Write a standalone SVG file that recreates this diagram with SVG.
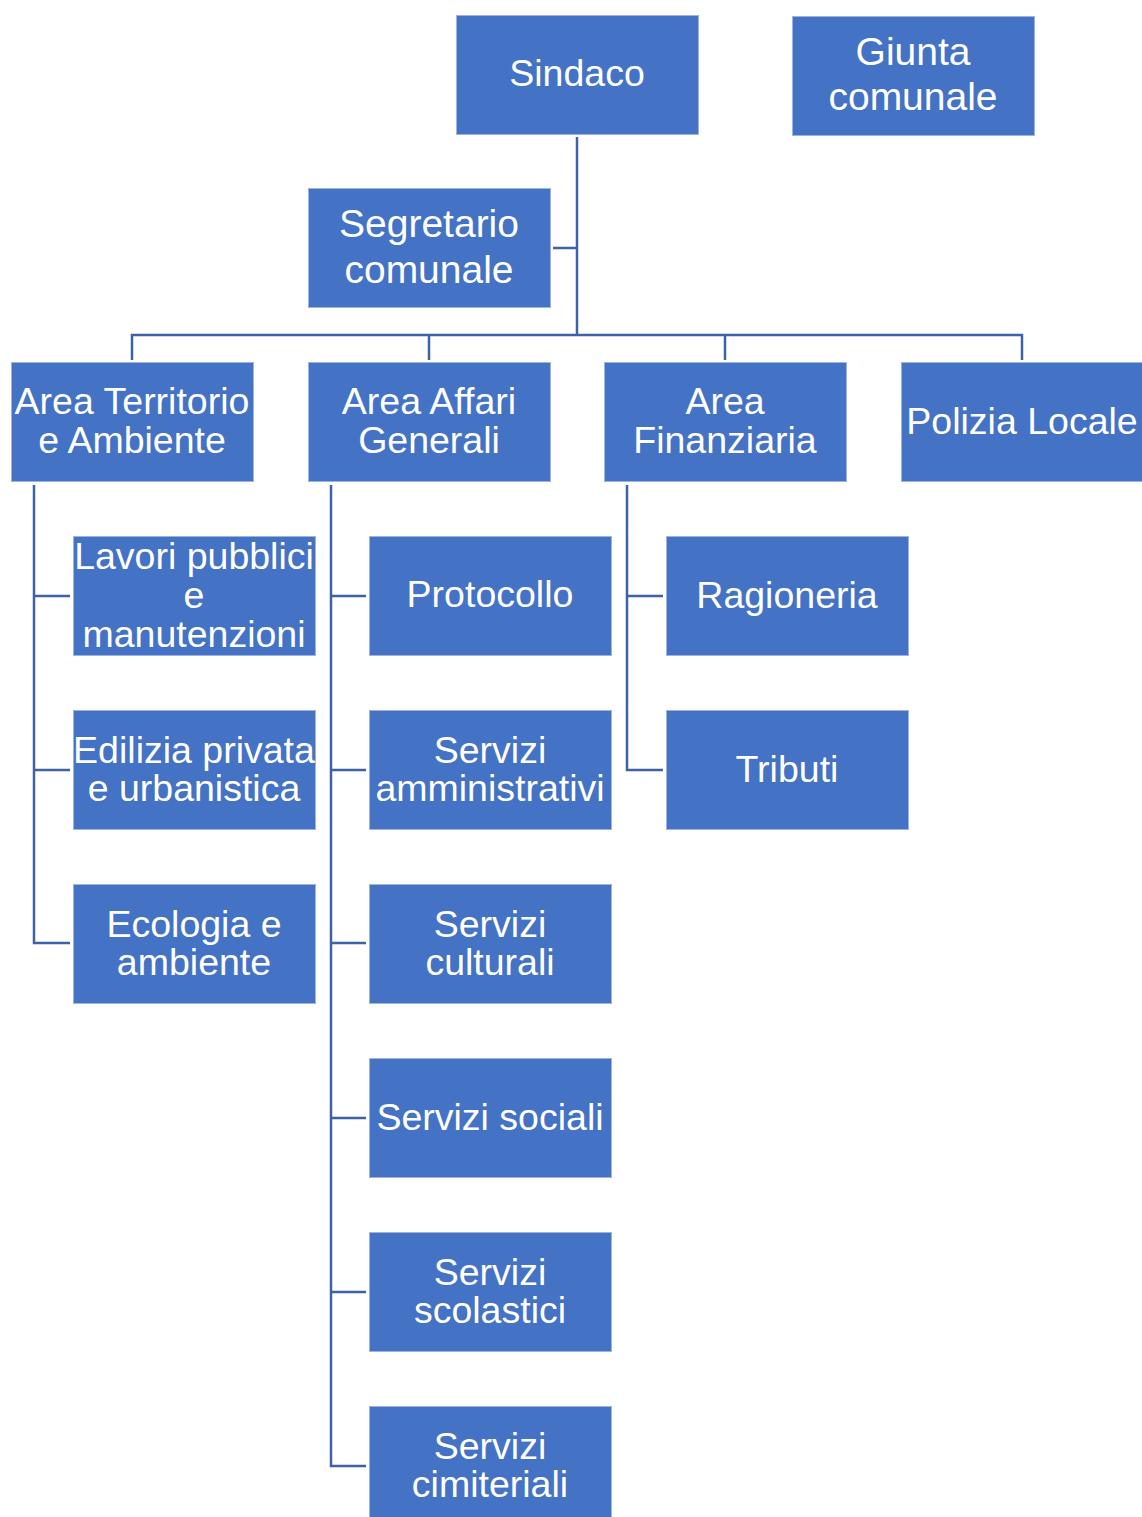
<svg xmlns="http://www.w3.org/2000/svg" width="1142" height="1517" viewBox="0 0 1142 1517">
<style>
.box{fill:#4472C4;stroke:#9DB4DE;stroke-width:1}
.t{font-family:"Liberation Sans",Arial,sans-serif;font-size:37.5px;fill:#FFFFFF;text-anchor:middle}
.L{font-size:39px}
.c{fill:none;stroke:#3D62A6;stroke-width:2.5}
</style>
<rect width="1142" height="1517" fill="#FFFFFF"/>
<g id="connectors">
<path class="c" d="M577,137 V335"/>
<path class="c" d="M553,248 H577"/>
<path class="c" d="M132,360 V335 H1022 V360"/>
<path class="c" d="M429,335 V360 M725,335 V360"/>
<path class="c" d="M34,485 V943 H70 M34,596 H70 M34,770 H70"/>
<path class="c" d="M331,485 V1466 H366 M331,596 H366 M331,770 H366 M331,943 H366 M331,1118 H366 M331,1292 H366"/>
<path class="c" d="M627,485 V770 H663 M627,596 H663"/>
</g>
<g id="sindaco"><rect class="box" x="456.5" y="15.5" width="242" height="119"/><text class="t" x="577" y="86">Sindaco</text></g>
<g id="giunta"><rect class="box" x="792.5" y="16.5" width="242" height="119"/><text class="t L" x="913" y="65">Giunta</text><text class="t L" x="913" y="110">comunale</text></g>
<g id="segretario"><rect class="box" x="308.5" y="188.5" width="242" height="119"/><text class="t L" x="429" y="237">Segretario</text><text class="t L" x="429" y="283">comunale</text></g>
<g id="area-territorio"><rect class="box" x="11.5" y="362.5" width="242" height="119"/><text class="t" x="132" y="414">Area Territorio</text><text class="t" x="132" y="453">e Ambiente</text></g>
<g id="area-affari"><rect class="box" x="308.5" y="362.5" width="242" height="119"/><text class="t" x="429" y="414">Area Affari</text><text class="t" x="429" y="453">Generali</text></g>
<g id="area-finanziaria"><rect class="box" x="604.5" y="362.5" width="242" height="119"/><text class="t" x="725" y="414">Area</text><text class="t" x="725" y="453">Finanziaria</text></g>
<g id="polizia"><rect class="box" x="901.5" y="362.5" width="242" height="119"/><text class="t" x="1022" y="434">Polizia Locale</text></g>
<g id="lavori"><rect class="box" x="73.5" y="536.5" width="242" height="119"/><text class="t" x="194" y="569">Lavori pubblici</text><text class="t" x="194" y="608">e</text><text class="t" x="194" y="647">manutenzioni</text></g>
<g id="edilizia"><rect class="box" x="73.5" y="710.5" width="242" height="119"/><text class="t" x="194" y="763">Edilizia privata</text><text class="t" x="194" y="801">e urbanistica</text></g>
<g id="ecologia"><rect class="box" x="73.5" y="884.5" width="242" height="119"/><text class="t" x="194" y="937">Ecologia e</text><text class="t" x="194" y="975">ambiente</text></g>
<g id="protocollo"><rect class="box" x="369.5" y="536.5" width="242" height="119"/><text class="t" x="490" y="607">Protocollo</text></g>
<g id="amministrativi"><rect class="box" x="369.5" y="710.5" width="242" height="119"/><text class="t" x="490" y="763">Servizi</text><text class="t" x="490" y="801">amministrativi</text></g>
<g id="culturali"><rect class="box" x="369.5" y="884.5" width="242" height="119"/><text class="t" x="490" y="937">Servizi</text><text class="t" x="490" y="975">culturali</text></g>
<g id="sociali"><rect class="box" x="369.5" y="1058.5" width="242" height="119"/><text class="t" x="490" y="1130">Servizi sociali</text></g>
<g id="scolastici"><rect class="box" x="369.5" y="1232.5" width="242" height="119"/><text class="t" x="490" y="1285">Servizi</text><text class="t" x="490" y="1323">scolastici</text></g>
<g id="cimiteriali"><rect class="box" x="369.5" y="1406.5" width="242" height="119"/><text class="t" x="490" y="1459">Servizi</text><text class="t" x="490" y="1497">cimiteriali</text></g>
<g id="ragioneria"><rect class="box" x="666.5" y="536.5" width="242" height="119"/><text class="t" x="787" y="608">Ragioneria</text></g>
<g id="tributi"><rect class="box" x="666.5" y="710.5" width="242" height="119"/><text class="t" x="787" y="782">Tributi</text></g>
</svg>
